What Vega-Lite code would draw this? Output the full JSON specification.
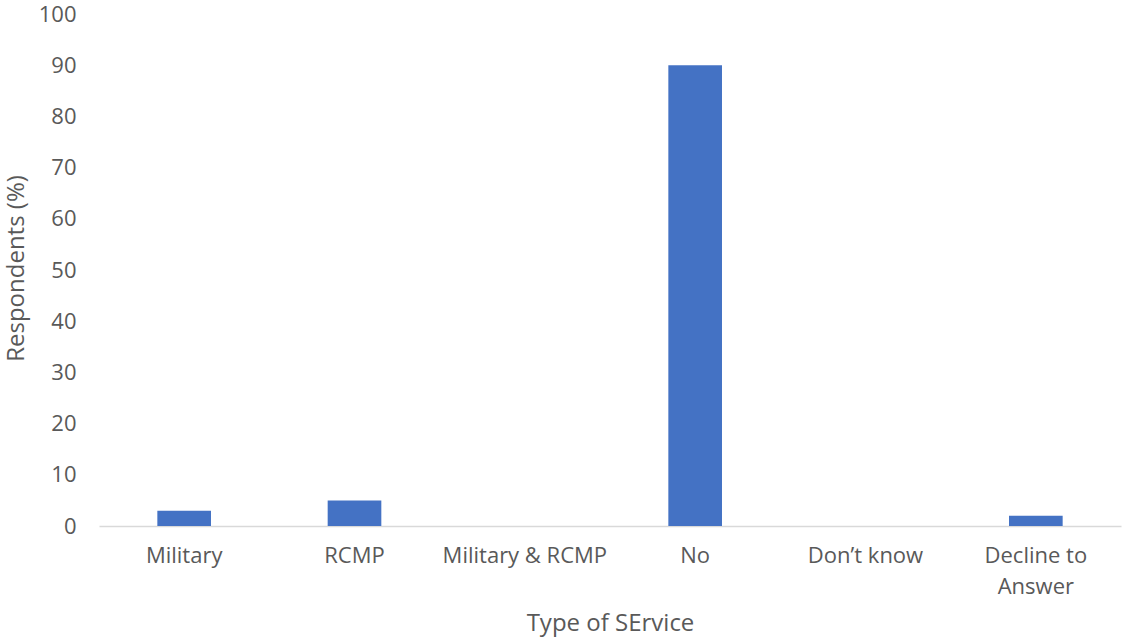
{
  "$schema": "https://vega.github.io/schema/vega-lite/v6.json",
  "width": 1022,
  "height": 512,
  "autosize": {"type": "none"},
  "padding": {"left": 99, "top": 14, "right": 1, "bottom": 115},
  "background": "white",
  "config": {
    "view": {"stroke": null},
    "font": "Open Sans",
    "axis": {
      "labelFont": "Open Sans",
      "titleFont": "Open Sans",
      "labelColor": "#595959",
      "titleColor": "#595959",
      "labelFontSize": 22,
      "titleFontSize": 24,
      "titleFontWeight": "normal"
    }
  },
  "data": {
    "values": [
      {"service": "Military", "pct": 3},
      {"service": "RCMP", "pct": 5},
      {"service": "Military & RCMP", "pct": 0},
      {"service": "No", "pct": 90},
      {"service": "Don’t know", "pct": 0},
      {"service": "Decline to Answer", "pct": 2}
    ]
  },
  "mark": {"type": "bar", "color": "#4472C4"},
  "encoding": {
    "x": {
      "field": "service",
      "type": "nominal",
      "sort": null,
      "scale": {"paddingInner": 0.685, "paddingOuter": 0.3425},
      "axis": {
        "title": "Type of SErvice",
        "labelAngle": 0,
        "labelPadding": 19,
        "labelLineHeight": 31,
        "labelExpr": "datum.label == 'Decline to Answer' ? ['Decline to', 'Answer'] : datum.label",
        "ticks": false,
        "domainColor": "#D9D9D9",
        "domainWidth": 1.5,
        "titleY": 104,
        "titleBaseline": "alphabetic"
      }
    },
    "y": {
      "field": "pct",
      "type": "quantitative",
      "scale": {"domain": [0, 100]},
      "axis": {
        "title": "Respondents (%)",
        "values": [0, 10, 20, 30, 40, 50, 60, 70, 80, 90, 100],
        "grid": false,
        "domain": false,
        "ticks": false,
        "labelPadding": 23,
        "titleX": -83,
        "titleY": 254,
        "titleBaseline": "middle"
      }
    }
  }
}
